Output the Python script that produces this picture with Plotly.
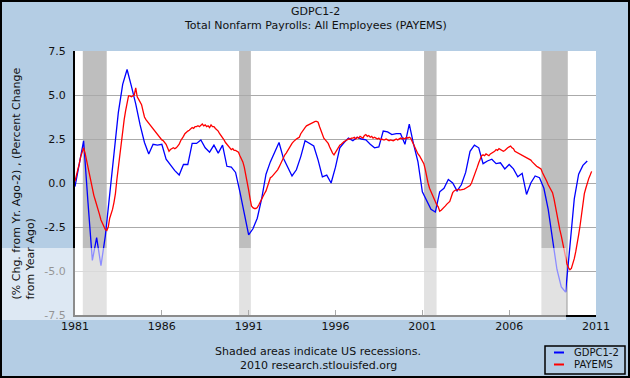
import pandas as pd
import plotly.graph_objects as go

# ---------------- data ----------------
title_line1 = "GDPC1-2"
title_line2 = "Total Nonfarm Payrolls: All Employees (PAYEMS)"
y_title = "(% Chg. from Yr. Ago-2) , (Percent Change<br>from Year Ago)"
note_line1 = "Shaded areas indicate US recessions."
note_line2 = "2010 research.stlouisfed.org"
series_names = ["GDPC1-2", "PAYEMS"]

# GDPC1-2: quarterly, % change from year ago minus 2 (1981Q1 .. 2010Q3)
gdp_start = "1981-01-01"
gdp_values = [
    -0.2, 1.0, 2.4, -1.1,      # 1981
    -4.4, -3.1, -4.7, -3.0,    # 1982
    -0.7, 1.4, 4.0, 5.6,       # 1983
    6.45, 5.5, 4.5, 3.3,       # 1984
    2.3, 1.65, 2.2, 2.15,      # 1985
    2.2, 1.35, 1.0, 0.7,       # 1986
    0.45, 1.05, 1.05, 2.25,    # 1987
    2.25, 2.45, 2.0, 1.75,     # 1988
    2.15, 1.7, 2.15, 0.95,     # 1989
    0.9, 0.6, -0.5, -1.8,      # 1990
    -2.95, -2.6, -2.0, -0.9,   # 1991
    0.5, 1.2, 1.8, 2.3,        # 1992
    1.4, 0.9, 0.4, 0.75,       # 1993
    1.5, 2.4, 2.25, 2.1,       # 1994
    1.3, 0.35, 0.45, 0.0,      # 1995
    0.9, 2.0, 2.3, 2.55,       # 1996
    2.4, 2.6, 2.5, 2.45,       # 1997
    2.2, 2.0, 2.05, 2.95,      # 1998
    2.9, 2.75, 2.8, 2.8,       # 1999
    2.2, 3.35, 2.2, 1.2,       # 2000
    -0.5, -1.0, -1.5, -1.65,   # 2001
    -0.5, -0.3, 0.2, 0.0,      # 2002
    -0.45, -0.1, 0.6, 1.8,     # 2003
    2.15, 2.0, 1.1, 1.25,      # 2004
    1.35, 1.1, 1.15, 0.8,      # 2005
    1.05, 0.8, 0.35, 0.55,     # 2006
    -0.65, 0.0, 0.4, 0.3,      # 2007
    -0.3, -1.5, -3.2, -4.9,    # 2008
    -5.9, -6.2, -3.6, -0.9,    # 2009
    0.5, 1.0, 1.25,            # 2010
]

# PAYEMS: monthly, percent change from year ago (Jan 1981 .. Oct 2010)
payems_start = "1981-01-01"
payems_values = [
    0.1, 0.4, 0.8, 1.1, 1.5, 1.8, 2.0, 1.7, 1.3, 0.8, 0.4, 0.0,                 # 1981
    -0.4, -0.7, -0.95, -1.2, -1.5, -1.8, -2.1, -2.3, -2.5, -2.65, -2.7, -2.5,   # 1982
    -2.0, -1.75, -1.5, -1.1, -0.6, 0.2, 0.9, 1.7, 2.5, 3.0, 3.6, 4.1,           # 1983
    4.6, 4.95, 4.95, 4.9, 4.95, 5.0, 5.4, 4.9, 4.75, 4.6, 4.45, 4.1,            # 1984
    3.75, 3.6, 3.5, 3.4, 3.3, 3.2, 3.1, 3.0, 2.85, 2.8, 2.65, 2.55,             # 1985
    2.45, 2.4, 2.3, 2.2, 2.0, 1.8, 1.9, 1.95, 2.0, 1.95, 2.0, 2.1,              # 1986
    2.2, 2.4, 2.5, 2.65, 2.8, 2.9, 2.95, 3.0, 3.1, 3.15, 3.1, 3.2,              # 1987
    3.2, 3.25, 3.2, 3.3, 3.35, 3.25, 3.3, 3.2, 3.25, 3.15, 3.3, 3.2,            # 1988
    3.2, 3.1, 3.05, 2.95, 2.8, 2.7, 2.6, 2.45, 2.3, 2.2, 2.1, 2.0,              # 1989
    1.9, 1.95, 1.85, 1.85, 1.8, 1.75, 1.55, 1.4, 1.2, 0.9, 0.5, 0.1,            # 1990
    -0.4, -0.9, -1.3, -1.4, -1.45, -1.45, -1.4, -1.25, -1.05, -0.85, -0.75, -0.6,  # 1991
    -0.45, -0.2, 0.1, 0.3, 0.35, 0.45, 0.5, 0.6, 0.75, 0.9, 1.1, 1.3,           # 1992
    1.45, 1.6, 1.7, 1.85, 1.95, 2.1, 2.25, 2.35, 2.45, 2.5, 2.55, 2.6,          # 1993
    2.8, 2.95, 3.05, 3.15, 3.25, 3.3, 3.35, 3.4, 3.45, 3.45, 3.5, 3.5,          # 1994
    3.45, 3.2, 2.95, 2.7, 2.55, 2.45, 2.35, 2.25, 2.05, 1.85, 1.7, 1.6,         # 1995
    1.75, 1.85, 2.0, 2.15, 2.2, 2.3, 2.35, 2.4, 2.45, 2.5, 2.5, 2.55,           # 1996
    2.55, 2.6, 2.5, 2.6, 2.55, 2.65, 2.6, 2.55, 2.7, 2.75, 2.65, 2.7,           # 1997
    2.6, 2.65, 2.55, 2.6, 2.55, 2.5, 2.55, 2.45, 2.5, 2.45, 2.45, 2.5,          # 1998
    2.45, 2.4, 2.45, 2.4, 2.4, 2.45, 2.5, 2.45, 2.5, 2.55, 2.5, 2.55,           # 1999
    2.5, 2.6, 2.55, 2.6, 2.55, 2.35, 2.25, 2.0, 1.85, 1.65, 1.55, 1.4,          # 2000
    1.25, 1.1, 0.8, 0.3, 0.0, -0.3, -0.5, -0.7, -0.9, -1.15, -1.25, -1.35,      # 2001
    -1.6, -1.55, -1.45, -1.35, -1.3, -1.2, -1.1, -1.05, -0.8, -0.55, -0.45, -0.4,  # 2002
    -0.4, -0.35, -0.4, -0.38, -0.4, -0.35, -0.3, -0.25, -0.2, -0.15, 0.0, 0.2,  # 2003
    0.4, 0.6, 0.9, 1.15, 1.4, 1.55, 1.6, 1.55, 1.65, 1.6, 1.55, 1.65,           # 2004
    1.7, 1.75, 1.8, 1.9, 1.85, 1.95, 1.9, 1.85, 1.8, 1.85, 1.95, 2.0,           # 2005
    2.05, 2.1, 2.0, 1.95, 1.8, 1.75, 1.7, 1.65, 1.6, 1.55, 1.5, 1.5,            # 2006
    1.45, 1.4, 1.35, 1.3, 1.2, 1.1, 1.0, 0.95, 0.9, 0.85, 0.8, 0.6,             # 2007
    0.45, 0.3, 0.1, -0.1, -0.25, -0.4, -0.55, -0.9, -1.4, -1.85, -2.3, -2.65,   # 2008
    -3.0, -3.4, -3.8, -4.25, -4.6, -4.8, -4.93, -4.85, -4.6, -4.3, -3.9, -3.5,  # 2009
    -2.95, -2.4, -1.8, -1.1, -0.6, -0.3, 0.05, 0.25, 0.45, 0.66,                # 2010
]

# recession periods (NBER, as shaded on the chart)
recession_starts = ["1981-06-14", "1990-06-14", "2001-02-06", "2007-11-10"]
recession_ends = ["1982-10-30", "1991-02-17", "2001-10-27", "2009-05-18"]

x_tick_years = [1981, 1986, 1991, 1996, 2001, 2006, 2011]
y_tick_values = [-7.5, -5.0, -2.5, 0.0, 2.5, 5.0, 7.5]
y_tick_labels = ["-7.5", "-5.0", "-2.5", "0.0", "2.5", "5.0", "7.5"]

# ---------------- build ----------------
gdp_dates = pd.date_range(gdp_start, periods=len(gdp_values), freq="QS")
payems_dates = pd.date_range(payems_start, periods=len(payems_values), freq="MS")

BG = "#B4CDE4"
FONT = "DejaVu Sans"
W_FIG, H_FIG = 630, 378
L, R, T, B = 75, 596, 51, 315  # plot area in pixels
PW, PH = R - L, B - T


def px(x):
    return (x - L) / PW


def py(y):
    return (B - y) / PH


fig = go.Figure()
fig.add_trace(go.Scatter(x=gdp_dates, y=gdp_values, mode="lines", name=series_names[0],
                         line=dict(color="#0000FF", width=1.3), showlegend=False))
fig.add_trace(go.Scatter(x=payems_dates, y=payems_values, mode="lines", name=series_names[1],
                         line=dict(color="#FF0000", width=1.3), showlegend=False))

shapes = []
for s, e in zip(recession_starts, recession_ends):
    shapes.append(dict(type="rect", xref="x", yref="paper", x0=s, x1=e, y0=0, y1=1,
                       fillcolor="#BEBEBE", line=dict(width=0), layer="below"))

# legend box (manual)
shapes.append(dict(type="rect", xref="paper", yref="paper", x0=px(545), x1=px(625),
                   y0=py(374), y1=py(346), line=dict(color="black", width=1.5),
                   fillcolor="rgba(0,0,0,0)", layer="above"))
shapes.append(dict(type="line", xref="paper", yref="paper", x0=px(554), x1=px(564),
                   y0=py(352.5), y1=py(352.5), line=dict(color="#0000FF", width=2)))
shapes.append(dict(type="line", xref="paper", yref="paper", x0=px(554), x1=px(564),
                   y0=py(364.5), y1=py(364.5), line=dict(color="#FF0000", width=2)))
# translucent overlay band (as in the reference picture)
shapes.append(dict(type="rect", xref="paper", yref="paper", x0=px(0), x1=px(566),
                   y0=py(320), y1=py(248), fillcolor="rgba(255,255,255,0.55)",
                   line=dict(width=0), layer="above"))
# outer frame
shapes.append(dict(type="rect", xref="paper", yref="paper", x0=px(1), x1=px(629),
                   y0=py(377), y1=py(1), line=dict(color="black", width=2),
                   fillcolor="rgba(0,0,0,0)", layer="above"))

txt = dict(family=FONT, size=11, color="#111111")
annotations = [
    dict(text=title_line1, x=px(315), y=py(11.5), xref="paper", yref="paper",
         showarrow=False, font=txt, xanchor="center", yanchor="middle"),
    dict(text=title_line2, x=px(315), y=py(25.5), xref="paper", yref="paper",
         showarrow=False, font=txt, xanchor="center", yanchor="middle"),
    dict(text=note_line1, x=px(318), y=py(351.5), xref="paper", yref="paper",
         showarrow=False, font=txt, xanchor="center", yanchor="middle"),
    dict(text=note_line2, x=px(318), y=py(365), xref="paper", yref="paper",
         showarrow=False, font=txt, xanchor="center", yanchor="middle"),
    dict(text=y_title, x=px(22.5), y=py(184), xref="paper", yref="paper",
         showarrow=False, font=txt, textangle=-90, align="left",
         xanchor="center", yanchor="middle"),
    dict(text=series_names[0], x=px(572), y=py(352.5), xref="paper", yref="paper",
         showarrow=False, font=dict(family=FONT, size=10, color="#111111"),
         xanchor="left", yanchor="middle"),
    dict(text=series_names[1], x=px(572), y=py(364.5), xref="paper", yref="paper",
         showarrow=False, font=dict(family=FONT, size=10, color="#111111"),
         xanchor="left", yanchor="middle"),
]

fig.update_layout(
    width=W_FIG, height=H_FIG,
    margin=dict(l=L, r=W_FIG - R, t=T, b=H_FIG - B, pad=0),
    paper_bgcolor=BG, plot_bgcolor="white",
    font=dict(family=FONT, size=11, color="#111111"),
    shapes=shapes, annotations=annotations, showlegend=False,
)
fig.update_xaxes(
    range=["1981-01-01", "2011-01-01"],
    tickvals=[f"{y}-01-01" for y in x_tick_years],
    ticktext=[str(y) for y in x_tick_years],
    showgrid=False, showline=True, linecolor="black", linewidth=2,
    ticks="inside", ticklen=5, tickcolor="#444444", tickwidth=1,
    tickfont=dict(family=FONT, size=11, color="#111111"),
    zeroline=False, fixedrange=True,
)
fig.update_yaxes(
    range=[-7.5, 7.5], tickvals=y_tick_values, ticktext=y_tick_labels,
    showgrid=True, gridcolor="#AAAAAA", gridwidth=1,
    showline=True, linecolor="black", linewidth=2,
    ticks="", ticklabelstandoff=5,
    tickfont=dict(family=FONT, size=11, color="#111111"),
    zeroline=False, fixedrange=True,
)

fig.write_html("out.html", config={"displayModeBar": False},
               post_script="document.body.style.margin='0px';document.body.style.overflow='hidden';")
